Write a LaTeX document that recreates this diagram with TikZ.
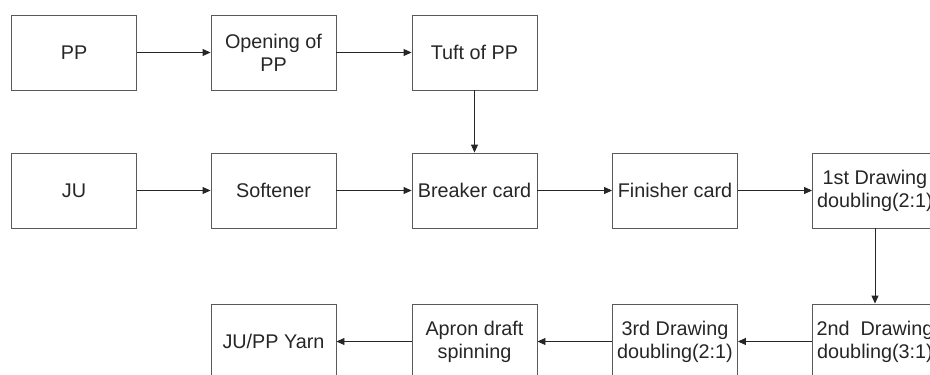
\documentclass[tikz,border=0pt]{standalone}
\usepackage{fontspec}
\setmainfont{Liberation Sans}
\usetikzlibrary{arrows.meta}
\begin{document}
\begin{tikzpicture}[x=1pt,y=-1pt,
  box/.style={draw=black!65,line width=0.9pt,minimum width=125pt,minimum height=75pt,inner sep=0pt,align=center,
    font=\fontsize{19.8pt}{23pt}\selectfont,text=black!85},
  conn/.style={draw=black!85,line width=0.9pt,-{Triangle[length=8pt,width=7pt]}}]
\useasboundingbox (0,0) rectangle (930,375);
\clip (0,0) rectangle (930,375);
\node[box] (pp) at (74,52.5) {PP};
\node[box] (open) at (273.5,52.5) {Opening of\\PP};
\node[box] (tuft) at (474.5,52.5) {Tuft of PP};
\node[box] (ju) at (74,190.5) {JU};
\node[box] (soft) at (273.5,190.5) {Softener};
\node[box] (breaker) at (474.5,190.5) {Breaker card};
\node[box] (finisher) at (675,190.5) {Finisher card};
\node[box] (first) at (875,190.5) {1st Drawing\\doubling(2:1)};
\node[box] (second) at (875,341.5) {2nd\ \ Drawing\\doubling(3:1)};
\node[box] (third) at (675,341.5) {3rd Drawing\\doubling(2:1)};
\node[box] (apron) at (474.5,341.5) {Apron draft\\spinning};
\node[box] (yarn) at (273.5,341.5) {JU/PP Yarn};
\draw[conn] (pp) -- (open);
\draw[conn] (open) -- (tuft);
\draw[conn] (tuft) -- (breaker);
\draw[conn] (ju) -- (soft);
\draw[conn] (soft) -- (breaker);
\draw[conn] (breaker) -- (finisher);
\draw[conn] (finisher) -- (first);
\draw[conn] (first) -- (second);
\draw[conn] (second) -- (third);
\draw[conn] (third) -- (apron);
\draw[conn] (apron) -- (yarn);
\end{tikzpicture}
\end{document}
